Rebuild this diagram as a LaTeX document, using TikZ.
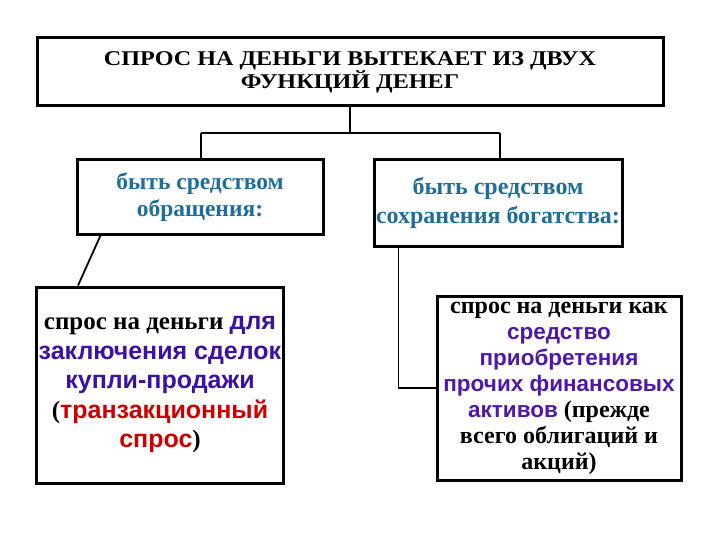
\documentclass[tikz,border=0pt]{standalone}
\usepackage{fontspec}
\setmainfont{Liberation Serif}
\newfontfamily\sansf{Liberation Sans}
\newfontfamily\widef[FakeStretch=1.15]{Liberation Serif}
\usetikzlibrary{calc}
\definecolor{tealblue}{HTML}{1F6E9A}
\definecolor{purpA}{HTML}{3C10A0}
\definecolor{purpB}{HTML}{5018A8}
\definecolor{redc}{HTML}{CC0000}
\begin{document}
\begin{tikzpicture}[x=1pt,y=-1pt,
  box/.style={draw,line width=3pt,inner sep=0pt,align=center},
  conn/.style={line width=1.8pt}]
\useasboundingbox (0,0) rectangle (720,540);
\node[box, minimum width=626pt, minimum height=68pt, font=\widef\bfseries\fontsize{21}{23}\selectfont] (top) at (350,72)
  {СПРОС НА ДЕНЬГИ ВЫТЕКАЕТ ИЗ ДВУХ\\ФУНКЦИЙ ДЕНЕГ};
\node[box, minimum width=246pt, minimum height=74pt, text=tealblue, font=\bfseries\fontsize{23.5}{27}\selectfont] (b1) at (200,197)
  {быть средством\\обращения:};
\node[box, minimum width=248pt, minimum height=86pt, text=tealblue, font=\bfseries\fontsize{24}{29}\selectfont] (b2) at (498,203)
  {быть средством\\сохранения богатства:};
\node[box, minimum width=247pt, minimum height=196pt, font=\bfseries\fontsize{25}{29.5}\selectfont] (b3) at (160,385)
  {спрос на деньги {\sansf\color{purpA}для}\\{\sansf\color{purpA}заключения сделок}\\{\sansf\color{purpA}купли-продажи}\\(\textcolor{redc}{\sansf транзакционный}\\\textcolor{redc}{\sansf спрос})};
\node[box, minimum width=244pt, minimum height=184pt, font=\bfseries\fontsize{24}{26}\selectfont] (b4) at (559,388)
  {спрос на деньги как\\{\sansf\fontsize{22.5}{26}\selectfont\color{purpB}средство}\\{\sansf\fontsize{22.5}{26}\selectfont\color{purpB}приобретения}\\{\sansf\fontsize{22.5}{26}\selectfont\color{purpB}прочих финансовых}\\{\sansf\fontsize{22.5}{26}\selectfont\color{purpB}активов} (прежде\\всего облигаций и\\акций)};
\coordinate (jc) at (350,133);
\coordinate (jl) at (201,133);
\coordinate (jr) at (500,133);
\draw[conn] (top.south) -- (jc);
\draw[conn] (jl) -- (jr);
\draw[conn] (jl) -- (jl |- b1.north);
\draw[conn] (jr) -- (jr |- b2.north);
\draw[conn] ($(b1.south west)+(25,0)$) -- ($(b3.north west)+(43,0)$);
\draw[conn] ($(b2.south west)+(26,0)$) |- (b4.west);
\end{tikzpicture}
\end{document}
